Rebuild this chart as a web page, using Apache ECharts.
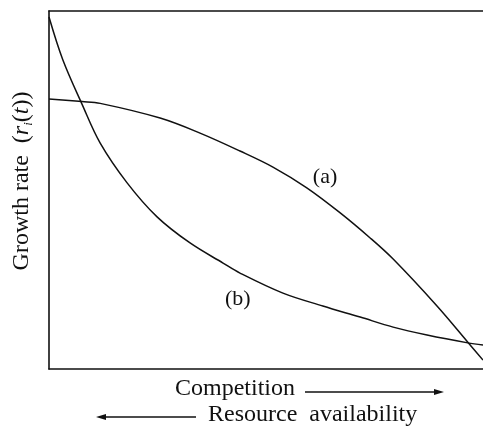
<!DOCTYPE html>
<html>
<head>
<meta charset="utf-8">
<script src="https://cdn.jsdelivr.net/npm/echarts@6/dist/echarts.min.js"></script>
<style>html,body{margin:0;padding:0;background:#fff;}#c{width:483px;height:429px;}</style>
</head>
<body>
<div id="c"></div>
<script>
// Curve (a): x = competition (0..10), y = growth rate (0..10)
const curveA = [
  [0, 7.54], [0.76, 7.47], [1.18, 7.42], [2.56, 7.01], [3.48, 6.59],
  [4.40, 6.09], [5.16, 5.64], [5.94, 5.06], [6.71, 4.36], [7.40, 3.66],
  [7.93, 3.07], [8.94, 1.76], [9.65, 0.75], [10, 0.25]
];
// Curve (b)
const curveB = [
  [0, 9.83], [0.32, 8.63], [0.76, 7.40], [1.18, 6.31], [1.80, 5.20],
  [2.49, 4.25], [3.25, 3.52], [4.01, 2.96], [4.40, 2.68], [5.39, 2.12],
  [6.31, 1.76], [7.17, 1.45], [7.93, 1.17], [8.71, 0.95], [9.65, 0.73], [10, 0.67]
];
const labelA = [6.36, 5.36];
const labelB = [4.35, 1.96];

const FONT = '"Liberation Serif", "DejaVu Serif", serif';
const INK = '#111';

const chart = echarts.init(document.getElementById('c'), null, {renderer: 'canvas'});
const lineStyle = {color: INK, width: 1.5};

chart.setOption({
  animation: false,
  backgroundColor: '#fff',
  grid: {left: 49, right: 0, top: 11, bottom: 60, containLabel: false},
  xAxis: [
    {type: 'value', min: 0, max: 10, position: 'bottom',
     axisLine: {show: true, onZero: false, lineStyle: {color: INK, width: 1.6}},
     axisTick: {show: false}, axisLabel: {show: false}, splitLine: {show: false}},
    {type: 'value', min: 0, max: 10, position: 'top',
     axisLine: {show: true, onZero: false, lineStyle: {color: INK, width: 1.6}},
     axisTick: {show: false}, axisLabel: {show: false}, splitLine: {show: false}}
  ],
  yAxis: {type: 'value', min: 0, max: 10,
    axisLine: {show: true, onZero: false, lineStyle: {color: INK, width: 1.6}},
    axisTick: {show: false}, axisLabel: {show: false}, splitLine: {show: false}},
  series: [
    {type: 'line', data: curveA, smooth: 0.35, symbol: 'none', lineStyle: lineStyle,
     markPoint: {symbol: 'circle', symbolSize: 0, silent: true,
       label: {show: true, formatter: '(a)', position: 'inside', color: INK, fontFamily: FONT, fontSize: 22},
       data: [{coord: labelA}]}},
    {type: 'line', data: curveB, smooth: 0.35, symbol: 'none', lineStyle: lineStyle,
     markPoint: {symbol: 'circle', symbolSize: 0, silent: true,
       label: {show: true, formatter: '(b)', position: 'inside', color: INK, fontFamily: FONT, fontSize: 22},
       data: [{coord: labelB}]}}
  ],
  graphic: [
    {type: 'text', x: 22, y: 181, rotation: Math.PI / 2,
     style: {
       text: '{n|Growth rate  (}{it|r}{sub|i}{n|(}{it|t}{n|))}',
       align: 'center', verticalAlign: 'middle', fill: INK,
       rich: {
         n: {fontFamily: FONT, fontSize: 24, lineHeight: 27, verticalAlign: 'middle', fill: INK},
         it: {fontFamily: FONT, fontSize: 24, fontStyle: 'italic', lineHeight: 27, verticalAlign: 'middle', fill: INK},
         sub: {fontFamily: FONT, fontSize: 13, fontStyle: 'italic', lineHeight: 13, verticalAlign: 'bottom', fill: INK}
       }
     }},
    {type: 'text', x: 175, y: 389,
     style: {text: 'Competition', fontFamily: FONT, fontSize: 24, fill: INK, align: 'left', verticalAlign: 'middle'}},
    {type: 'line', shape: {x1: 305, y1: 392, x2: 436, y2: 392}, style: {stroke: INK, lineWidth: 1.3}},
    {type: 'polygon', shape: {points: [[444, 392], [434, 389], [434, 395]]}, style: {fill: INK}},
    {type: 'text', x: 208, y: 415,
     style: {text: 'Resource  availability', fontFamily: FONT, fontSize: 24, fill: INK, align: 'left', verticalAlign: 'middle'}},
    {type: 'line', shape: {x1: 104, y1: 417, x2: 196, y2: 417}, style: {stroke: INK, lineWidth: 1.3}},
    {type: 'polygon', shape: {points: [[96, 417], [106, 414], [106, 420]]}, style: {fill: INK}}
  ]
});
</script>
</body>
</html>
